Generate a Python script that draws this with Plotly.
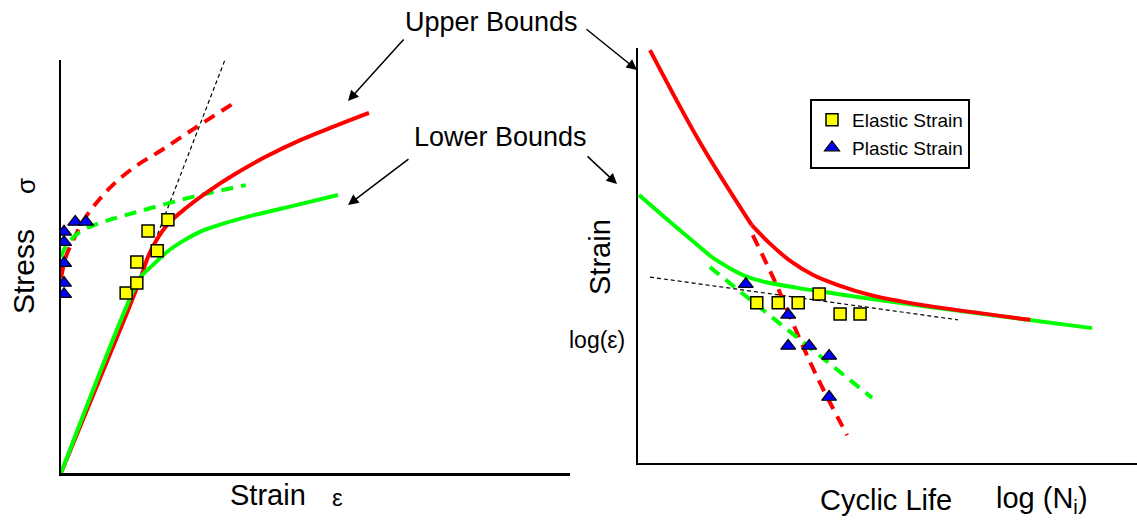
import plotly.graph_objects as go

W, H = 1137, 520
FONT = "Liberation Sans, Arial, sans-serif"

# ---------------- Left panel: stress-strain (arbitrary units 0..100) ----------------
upper_mono_x = [0, 13.2, 15.5, 17.5, 20.8, 24.8, 29.3, 34.2, 40.1, 47.0, 53.8, 60.5]
upper_mono_y = [0, 39.5, 46.7, 53.5, 60.0, 64.4, 68.5, 72.4, 76.5, 80.6, 84.0, 87.2]
lower_mono_x = [0, 12.6, 15.5, 18.1, 20.8, 24.0, 27.3, 32.2, 37.1, 47.0, 54.4]
lower_mono_y = [0, 39.5, 47.2, 50.4, 53.5, 56.2, 58.4, 60.5, 62.2, 65.1, 67.3]
upper_cyc_x = [0, 1.0, 2.6, 4.5, 7.1, 10.4, 14.7, 19.8, 26.3, 34.0]
upper_cyc_y = [47.2, 52.5, 56.9, 61.3, 65.6, 70.0, 74.3, 78.2, 83.5, 89.6]
lower_cyc_x = [0, 1.0, 3.7, 7.1, 15.5, 27.3, 36.3]
lower_cyc_y = [52.3, 55.0, 58.4, 60.3, 63.4, 67.3, 69.7]
elastic_line_x = [15.5, 32.2]
elastic_line_y = [46.7, 100]
left_sq_x = [12.8, 14.9, 14.9, 18.9, 17.1, 21.0]
left_sq_y = [43.6, 46.0, 51.1, 53.8, 58.6, 61.3]
left_tri_x = [0.6, 0.6, 0.6, 0.6, 0.6, 2.8, 4.9]
left_tri_y = [43.3, 46.0, 50.8, 55.9, 58.4, 60.8, 60.8]

# ---------------- Right panel: strain-life (arbitrary units 0..100) ----------------
upper_life_hi_x = [2.4, 12.4, 22.8]
upper_life_hi_y = [99.5, 77.3, 57.3]
upper_life_lo_x = [22.8, 26.5, 30.5, 35.1, 40.5, 46.5, 52.5, 58.5, 78.6]
upper_life_lo_y = [57.3, 52.8, 48.7, 45.3, 42.7, 40.5, 39.0, 37.8, 34.5]
lower_life_hi_x = [0.2, 7.4, 14.8]
lower_life_hi_y = [64.6, 57.1, 49.6]
lower_life_lo_x = [14.8, 18.0, 21.4, 25.5, 31.9, 38.5, 45.1, 58.5, 91.0]
lower_life_lo_y = [49.6, 47.2, 45.1, 43.6, 42.2, 41.0, 39.8, 37.6, 32.5]
upper_pl_x = [23.0, 27.5, 31.9, 35.9, 41.9]
upper_pl_y = [54.9, 43.6, 31.3, 20.7, 6.7]
lower_pl_x = [14.4, 46.9]
lower_pl_y = [47.2, 15.7]
elastic_life_x = [2.4, 64.1]
elastic_life_y = [44.8, 34.5]
right_sq_x = [23.8, 28.1, 32.1, 36.3, 40.5, 44.5]
right_sq_y = [38.6, 38.6, 38.6, 40.7, 35.9, 35.9]
right_tri_x = [21.6, 30.1, 30.1, 34.3, 38.3, 38.3]
right_tri_y = [43.1, 35.7, 28.2, 28.2, 25.8, 15.9]

RED = "#FF0000"
GREEN = "#00FF00"
YELLOW = "#FFFF00"
BLUE = "#0000FF"

fig = go.Figure()

def line(x, y, color, width, dash=None, ax="x", ay="y", smooth=1.0):
    fig.add_trace(go.Scatter(x=x, y=y, mode="lines", xaxis=ax, yaxis=ay,
                             line=dict(color=color, width=width, dash=dash, shape="spline", smoothing=smooth),
                             showlegend=False, hoverinfo="skip"))

# left panel
line(elastic_line_x, elastic_line_y, "black", 1.2, "4px,3px")
line(upper_cyc_x, upper_cyc_y, RED, 4, "12px,8px")
line(lower_cyc_x, lower_cyc_y, GREEN, 4, "12px,8px")
line(upper_mono_x, upper_mono_y, RED, 4)
line(lower_mono_x, lower_mono_y, GREEN, 4)
fig.add_trace(go.Scatter(x=left_sq_x, y=left_sq_y, mode="markers", xaxis="x", yaxis="y",
                         marker=dict(symbol="square", size=12, color=YELLOW, line=dict(color="black", width=1.5)),
                         showlegend=False, hoverinfo="skip"))
fig.add_trace(go.Scatter(x=left_tri_x, y=left_tri_y, mode="markers", xaxis="x", yaxis="y",
                         marker=dict(symbol="triangle-up", size=13, color=BLUE, line=dict(color="black", width=1.2)),
                         showlegend=False, hoverinfo="skip"))

# right panel
line(elastic_life_x, elastic_life_y, "black", 1.2, "4px,3px", "x2", "y2")
line(upper_pl_x, upper_pl_y, RED, 4, "12px,8px", "x2", "y2")
line(lower_pl_x, lower_pl_y, GREEN, 4, "12px,8px", "x2", "y2")
line(lower_life_hi_x, lower_life_hi_y, GREEN, 4, None, "x2", "y2")
line(lower_life_lo_x, lower_life_lo_y, GREEN, 4, None, "x2", "y2")
line(upper_life_hi_x, upper_life_hi_y, RED, 4, None, "x2", "y2")
line(upper_life_lo_x, upper_life_lo_y, RED, 4, None, "x2", "y2")
fig.add_trace(go.Scatter(x=right_sq_x, y=right_sq_y, mode="markers", xaxis="x2", yaxis="y2",
                         name="Elastic Strain", legendgroup="a",
                         marker=dict(symbol="square", size=12, color=YELLOW, line=dict(color="black", width=1.5)),
                         hoverinfo="skip"))
fig.add_trace(go.Scatter(x=right_tri_x, y=right_tri_y, mode="markers", xaxis="x2", yaxis="y2",
                         name="Plastic Strain", legendgroup="b",
                         marker=dict(symbol="triangle-up", size=13, color=BLUE, line=dict(color="black", width=1.2)),
                         hoverinfo="skip"))

def px(xp, yp):
    return xp / W, 1 - yp / H

annotations = []
def text(t, xp, yp, size, angle=0):
    x, y = px(xp, yp)
    annotations.append(dict(text=t, x=x, y=y, xref="paper", yref="paper", showarrow=False,
                            xanchor="center", yanchor="middle", textangle=angle,
                            font=dict(family=FONT, size=size, color="black")))

def arrow(tipx, tipy, tailx, taily):
    x, y = px(tipx, tipy)
    annotations.append(dict(text="", x=x, y=y, xref="paper", yref="paper", showarrow=True,
                            ax=tailx - tipx, ay=taily - tipy, arrowhead=2, arrowsize=1.4,
                            arrowwidth=1.5, arrowcolor="black"))

text("Upper Bounds", 491, 22, 27)
text("Lower Bounds", 500, 137, 27)
arrow(348, 101, 405, 38)
arrow(637, 70, 585, 28)
arrow(348, 205, 410, 158)
arrow(617, 184, 586, 155)
text("Stress", 23, 272, 30, -90)
text("σ", 26, 186, 26, -90)
text("Strain", 268, 495, 29)
text("ε", 338, 497, 24)
text("Strain", 600, 257, 29, -90)
text("log(ε)", 597, 340, 23)
text("Cyclic Life", 886, 500, 29)
text("log (N<sub>i</sub>)", 1042, 500, 29)

axis_common = dict(showgrid=False, zeroline=False, showticklabels=False, ticks="",
                   showline=True, linecolor="black", fixedrange=True)

fig.update_layout(
    width=W, height=H,
    margin=dict(l=0, r=0, t=0, b=0),
    paper_bgcolor="white", plot_bgcolor="white",
    xaxis=dict(domain=[61 / W, 570 / W], range=[0, 100], anchor="y", linewidth=3, **axis_common),
    yaxis=dict(domain=[1 - 473 / H, 1 - 60 / H], range=[0, 100], anchor="x", linewidth=2, **axis_common),
    xaxis2=dict(domain=[638 / W, 1.0], range=[0, 100], anchor="y2", linewidth=1.5, **axis_common),
    yaxis2=dict(domain=[1 - 463 / H, 1 - 48 / H], range=[0, 100], anchor="x2", linewidth=1.5, **axis_common),
    legend=dict(x=810 / W, y=1 - 99 / H, xanchor="left", yanchor="top",
                bordercolor="black", borderwidth=2, bgcolor="white",
                font=dict(family=FONT, size=19, color="black"),
                traceorder="grouped", tracegroupgap=0),
    annotations=annotations,
    showlegend=True,
)

fig.write_html("out.html")
